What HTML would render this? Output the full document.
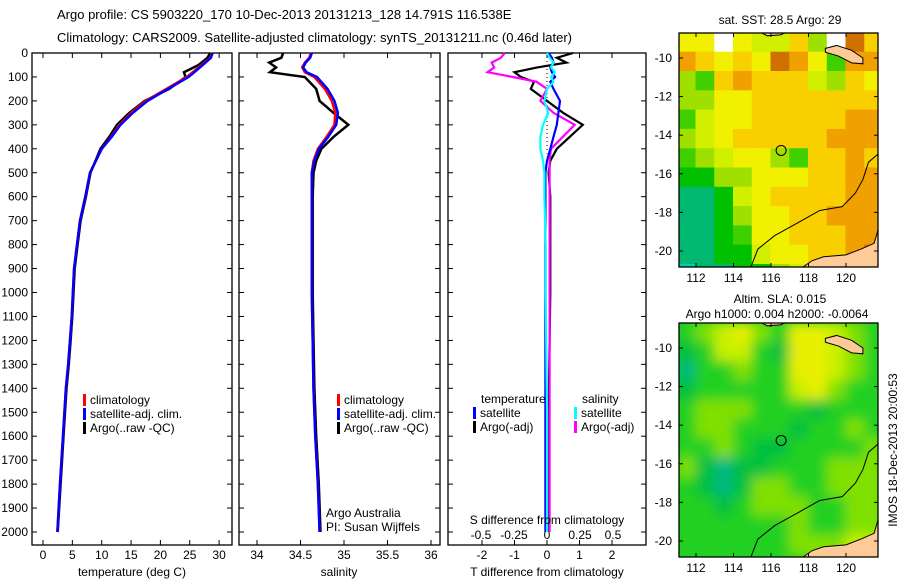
<!DOCTYPE html>
<html><head><meta charset="utf-8"><style>
body{margin:0;background:#fff;}
svg{display:block;font-family:"Liberation Sans",sans-serif;}
</style></head><body>
<svg id="c" width="900" height="580" viewBox="0 0 900 580">
<text x="57" y="19" font-size="13">Argo profile: CS 5903220_170 10-Dec-2013 20131213_128 14.791S 116.538E</text>
<text x="57" y="42" font-size="13">Climatology: CARS2009. Satellite-adjusted climatology: synTS_20131211.nc (0.46d later)</text>
</svg>
<script>
const depthTicks=[0,100,200,300,400,500,600,700,800,900,1000,1100,1200,1300,1400,1500,1600,1700,1800,1900,2000];
const tempTicks=[0,5,10,15,20,25,30];
const salTicks=[34,34.5,35,35.5,36];
const sDiffTicks=[-0.5,-0.25,0,0.25,0.5];
const tDiffTicks=[-2,-1,0,1,2];
const depthT=[0,20,50,80,100,150,200,250,300,350,400,500,600,700,800,900,1000,1100,1200,1300,1400,1600,1800,2000];
const tempClim=[28.8,28.5,27,25.5,24.5,21,17.5,15,13.0,11.6,10.0,8.0,7.2,6.3,5.8,5.3,5.1,4.9,4.6,4.3,3.9,3.4,2.9,2.45];
const tempSat=[28.9,28.6,27.2,25.8,24.8,21.3,17.8,15.3,13.2,11.7,10.0,8.0,7.2,6.3,5.8,5.3,5.1,4.9,4.6,4.3,3.9,3.4,2.9,2.45];
const tempArgo=[28.5,28.0,26.5,24.0,24.3,21.5,17.3,14.7,12.6,11.3,9.8,8.1,7.3,6.4,5.9,5.4,5.2,5.0,4.7,4.4,4.0,3.5,3.0,2.5];
const depthS=[0,20,40,60,80,100,150,200,250,300,350,400,450,500,600,800,1000,1200,1400,1600,1800,2000];
const salClim=[34.62,34.6,34.55,34.52,34.55,34.66,34.78,34.86,34.9,34.89,34.8,34.7,34.65,34.63,34.63,34.63,34.63,34.64,34.65,34.67,34.7,34.72];
const salSat=[34.63,34.61,34.56,34.53,34.57,34.69,34.81,34.89,34.93,34.91,34.82,34.71,34.66,34.63,34.63,34.63,34.63,34.64,34.65,34.67,34.7,34.72];
const salArgo=[34.30,34.28,34.14,34.22,34.15,34.55,34.68,34.72,34.88,35.05,34.88,34.74,34.68,34.65,34.64,34.64,34.64,34.65,34.66,34.68,34.71,34.73];
const depthD=[0,20,40,60,80,100,120,150,200,250,300,350,400,450,500,600,800,1000,1500,2000];
const tSatDiff=[0.05,0.15,0.2,0.1,0.15,0.25,0.1,0.2,0.4,0.35,0.3,0.2,0.1,0,-0.05,-0.05,-0.05,-0.05,-0.05,-0.05];
const tArgoDiff=[0.8,0.3,0.6,-0.3,-1.0,-0.8,-0.4,-0.5,0,0.5,1.1,0.7,0.3,0.1,0.05,0.1,0.1,0.1,0.05,0.05];
const sSatDiff=[0,0.02,0.05,0.03,0.06,0.03,0.05,0,-0.02,0.01,-0.03,-0.05,-0.05,-0.03,-0.02,-0.02,-0.01,-0.01,0,0];
const sArgoDiff=[-0.32,-0.35,-0.42,-0.4,-0.45,-0.26,-0.08,0,-0.05,0.05,0.21,0.12,0.03,0.02,0.02,0.02,0.02,0.02,0.02,0.02];
const sstGrid=["66-65574-97","87676986388","43787775476","44667777777","35667777788","45677777888","34566437787","22446667788","11256777788","11246677888","11236677788","11225667789","01122456---"];
const slaGrid=["34564366543","23553266543","13343366543","23333356433","34443332333","34433323343","33432233334","42122333444","32124433444","33234443344","33333343344","33333344455","33333334455"];
const lonTicks=[112,114,116,118,120];
const latTicks=[-10,-12,-14,-16,-18,-20];
const argoPos=[116.54,-14.79];

const NS="http://www.w3.org/2000/svg";
const svg=document.getElementById('c');
function mk(tag,at,parent){const e=document.createElementNS(NS,tag);for(const k in at)e.setAttribute(k,at[k]);(parent||svg).appendChild(e);return e;}
const TOP=53,BOT=545;
function yD(d){return TOP+d*0.2395;}

function panel(name,x0,x1,ticks,xs,fmt,labelY){
  const r=mk('rect',{x:x0,y:TOP,width:x1-x0,height:BOT-TOP,fill:'none',stroke:'#000','stroke-width':1.3});
  
  depthTicks.forEach(d=>{const y=yD(d);
    mk('line',{x1:x0,x2:x0+5,y1:y,y2:y,stroke:'#000'});mk('line',{x1:x1-5,x2:x1,y1:y,y2:y,stroke:'#000'});});
  ticks.forEach(v=>{const x=xs(v);
    mk('line',{x1:x,x2:x,y1:TOP,y2:TOP+5,stroke:'#000'});mk('line',{x1:x,x2:x,y1:BOT-5,y2:BOT,stroke:'#000'});
    if(labelY){const t=mk('text',{x:x,y:labelY,'font-size':12,'text-anchor':'middle'});t.textContent=fmt(v);
    }});
}
function line(xs,xv,dv,color,w,name){
  const p=dv.map((d,i)=>(i?'L':'M')+xs(xv[i]).toFixed(1)+','+yD(d).toFixed(1)).join('');
  const e=mk('path',{d:p,fill:'none',stroke:color,'stroke-width':w,'stroke-linejoin':'miter'});
  
}
function txt(x,y,s,name,opt){const t=mk('text',Object.assign({x:x,y:y,'font-size':12},opt||{}));t.textContent=s;
  return t;}
function legend(x,y,color,s,name){mk('rect',{x:x,y:y-10,width:3,height:12,fill:color});txt(x+7,y,s,name);}

depthTicks.forEach(d=>{txt(28,yD(d)+4,String(d),'y-tick-label',{'text-anchor':'end'});});

const xT=v=>43+v*5.87;
panel('temperature-panel',32,232,tempTicks,xT,v=>String(v),559);
line(xT,tempArgo,depthT,'#000',2.5,'temp-argo-line');
line(xT,tempClim,depthT,'#f00',2.5,'temp-climatology-line');
line(xT,tempSat,depthT,'#00f',2.5,'temp-satellite-line');
txt(132,576,'temperature (deg C)','temperature-axis-title',{'text-anchor':'middle'});
legend(83,404,'#f00','climatology','legend-climatology');
legend(83,418,'#00f','satellite-adj. clim.','legend-satellite');
legend(83,432,'#000','Argo(..raw -QC)','legend-argo');

const xS=v=>257+(v-34)*87;
panel('salinity-panel',239,440,salTicks,xS,v=>String(v),559);
line(xS,salArgo,depthS,'#000',2.5,'sal-argo-line');
line(xS,salClim,depthS,'#f00',2.5,'sal-climatology-line');
line(xS,salSat,depthS,'#00f',2.5,'sal-satellite-line');
txt(339,576,'salinity','salinity-axis-title',{'text-anchor':'middle'});
legend(337,404,'#f00','climatology','legend-sal-climatology');
legend(337,418,'#00f','satellite-adj. clim.','legend-sal-satellite');
legend(337,432,'#000','Argo(..raw -QC)','legend-sal-argo');
txt(326,517,'Argo Australia','credit-argo-australia');
txt(326,531,'PI: Susan Wijffels','credit-pi');

const xTD=v=>547+v*32.5, xSD=v=>547+v*132;
panel('difference-panel',448,646,tDiffTicks,xTD,v=>String(v),559);
sDiffTicks.forEach(v=>txt(xSD(v),539,v===0?'0':String(v),'s-diff-tick-label',{'text-anchor':'middle'}));
mk('line',{x1:547,x2:547,y1:TOP,y2:yD(420),stroke:'#000','stroke-dasharray':'1,3'});
line(xTD,tArgoDiff,depthD,'#000',2.2,'t-diff-argo-line');
line(xSD,sArgoDiff,depthD,'#f0f',2.2,'s-diff-argo-line');
line(xTD,tSatDiff,depthD,'#00f',2.2,'t-diff-satellite-line');
line(xSD,sSatDiff,depthD,'#0ff',2.2,'s-diff-satellite-line');
txt(547,524,'S difference from climatology','s-diff-axis-title',{'text-anchor':'middle'});
txt(547,576,'T difference from climatology','t-diff-axis-title',{'text-anchor':'middle'});
txt(481,403,'temperature','legend-temperature-header');
legend(473,417,'#00f','satellite','legend-t-satellite');
legend(473,431,'#000','Argo(-adj)','legend-t-argo');
txt(582,403,'salinity','legend-salinity-header');
legend(574,417,'#0ff','satellite','legend-s-satellite');
legend(574,431,'#f0f','Argo(-adj)','legend-s-argo');

const sstCol={'0':'#00d0b0','1':'#00b870','2':'#00c000','3':'#40d000','4':'#a0e000','5':'#d0f000','6':'#f0f000','7':'#f8d000','8':'#f0a000','9':'#d07000','-':'#ffffff'};
const slaCol={'1':'#00b880','2':'#00c040','3':'#20d020','4':'#80e000','5':'#c8f000','6':'#e8f000'};
function map(name,y0,y1,latY,grid,cols,blur){
  const x0=679,x1=878;
  const mx=lon=>696+(lon-112)*18.75, my=lat=>latY+(lat+10)*-(19.3);
  const cid='clip-'+name;
  const cp=mk('clipPath',{id:cid});mk('rect',{x:x0,y:y0,width:x1-x0,height:y1-y0},cp);
  const g=mk('g',{'clip-path':'url(#'+cid+')'});
  
  if(blur) mk('rect',{x:x0,y:y0,width:x1-x0,height:y1-y0,fill:'#20d020'},g);
  const inner=mk('g',blur?{filter:'url(#blur)'}:{},g);
  grid.forEach((row,r)=>{[...row].forEach((c,k)=>{
    const lon=111+k, lat=-8.7-r;
    const cell=mk('rect',{x:mx(lon)-0.5,y:my(lat)-0.5,width:18.75+1,height:19.3+1,fill:cols[c]||'#fff'},inner);
    
  });});
  const land=(pts,n)=>{const e=mk('polygon',{points:pts.map(p=>mx(p[0])+','+my(p[1])).join(' '),fill:'#fecb98',stroke:'#000','stroke-width':1},g);
    };
  land([[118.9,-9.5],[119.5,-9.35],[120.3,-9.6],[120.9,-10.0],[120.9,-10.3],[120.3,-10.25],[119.6,-9.9],[118.9,-9.7]],'sumba-island');
  land([[121.8,-18.6],[121.5,-19.6],[120.8,-19.9],[120,-20.2],[118.8,-20.3],[118.2,-20.5],[117.6,-20.9],[121.8,-20.9]],'australia-coast');
  land([[115.3,-8.6],[115.8,-8.85],[116.5,-8.8],[117,-8.6]],'north-island');
  const sh=mk('polyline',{points:[[121.8,-14.9],[121.2,-15.4],[120.9,-16.3],[120.5,-17.0],[119.8,-17.7],[118.6,-17.9],[117.5,-18.5],[116.2,-19.2],[115.3,-19.9],[114.9,-20.9]].map(p=>mx(p[0])+','+my(p[1])).join(' '),fill:'none',stroke:'#000','stroke-width':1},g);
  
  const c=mk('circle',{cx:mx(argoPos[0]),cy:my(argoPos[1]),r:5,fill:'none',stroke:'#000','stroke-width':1});
  
  const f=mk('rect',{x:x0,y:y0,width:x1-x0,height:y1-y0,fill:'none',stroke:'#000','stroke-width':1.3});
  
  lonTicks.forEach(v=>{const x=mx(v);mk('line',{x1:x,x2:x,y1:y0,y2:y0+4,stroke:'#000'});mk('line',{x1:x,x2:x,y1:y1-4,y2:y1,stroke:'#000'});
    txt(x,y1+15,String(v),name+'-lon-label',{'text-anchor':'middle'});});
  latTicks.forEach(v=>{const y=my(v);mk('line',{x1:x0,x2:x0+4,y1:y,y2:y,stroke:'#000'});mk('line',{x1:x1-4,x2:x1,y1:y,y2:y,stroke:'#000'});
    txt(672,y+4,String(v),name+'-lat-label',{'text-anchor':'end'});});
}
const defs=mk('defs',{});const fl=mk('filter',{id:'blur',x:'-10%',y:'-10%',width:'120%',height:'120%'},defs);mk('feGaussianBlur',{stdDeviation:6,edgeMode:'duplicate'},fl);
map('sst-map',33,267,58,sstGrid,sstCol,false);
map('sla-map',323,557,348,slaGrid,slaCol,true);
txt(780,24,'sat. SST: 28.5 Argo: 29','sst-map-title',{'text-anchor':'middle'});
txt(780,303,'Altim. SLA: 0.015','sla-map-title',{'text-anchor':'middle'});
txt(777,318,'Argo h1000: 0.004 h2000: -0.0064','sla-map-subtitle',{'text-anchor':'middle'});
txt(0,0,'IMOS 18-Dec-2013 20:00:53','imos-timestamp',{'text-anchor':'middle',transform:'translate(897,450) rotate(-90)'});
</script>
</body></html>
